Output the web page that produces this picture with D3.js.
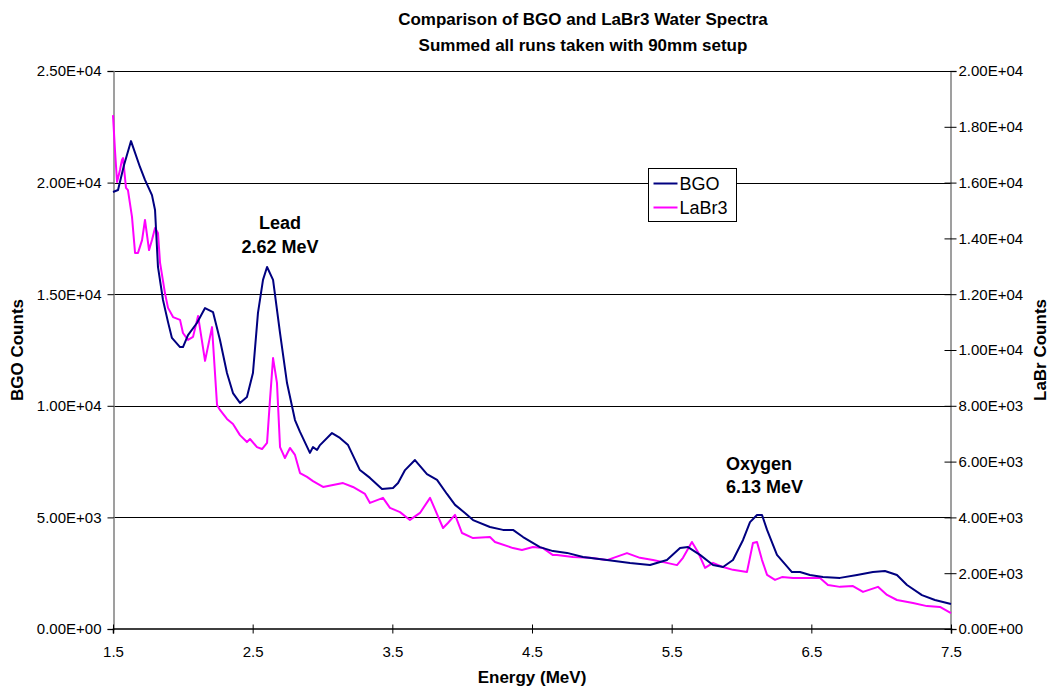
<!DOCTYPE html>
<html>
<head>
<meta charset="utf-8">
<script src="https://cdn.jsdelivr.net/npm/d3@7/dist/d3.min.js"></script>
<style>
  html, body { margin: 0; padding: 0; background: #fff; }
  svg { display: block; font-family: "Liberation Sans", Arial, sans-serif; }
</style>
</head>
<body>
<svg id="chart" width="1050" height="688"></svg>
<script>
// ---------------- DATA ----------------
const xTicks = [1.5, 2.5, 3.5, 4.5, 5.5, 6.5, 7.5];
const yLeftTicks = [0, 5000, 10000, 15000, 20000, 25000];
const yRightTicks = [0, 2000, 4000, 6000, 8000, 10000, 12000, 14000, 16000, 18000, 20000];

const bgoEnergy = [1.500,1.536,1.579,1.629,1.693,1.729,1.779,1.801,1.822,1.858,1.894,1.922,1.980,2.001,2.037,2.101,2.159,2.216,2.266,2.316,2.359,2.409,2.459,2.502,2.538,2.574,2.603,2.646,2.696,2.746,2.803,2.839,2.910,2.932,2.961,2.982,3.068,3.125,3.183,3.268,3.340,3.426,3.505,3.541,3.591,3.662,3.748,3.820,3.891,3.949,4.020,4.078,4.199,4.292,4.364,4.436,4.557,4.650,4.751,4.865,5.037,5.202,5.345,5.466,5.560,5.617,5.703,5.796,5.868,5.939,6.011,6.061,6.111,6.147,6.183,6.254,6.361,6.419,6.490,6.583,6.705,6.827,6.941,7.027,7.113,7.185,7.292,7.385,7.500];
const bgoCounts = [19580,19670,20790,21860,20700,20120,19440,18770,16220,14740,13750,13040,12630,12630,13170,13710,14380,14200,12950,11470,10570,10130,10390,11470,14160,15640,16220,15640,13260,11020,9360,8830,7890,8150,8020,8240,8780,8560,8240,7120,6770,6270,6320,6540,7120,7570,6940,6680,6050,5560,5200,4880,4570,4440,4440,4120,3670,3490,3410,3230,3090,2960,2870,3090,3630,3670,3320,2870,2780,3090,3990,4790,5110,5110,4440,3320,2550,2550,2420,2330,2290,2420,2550,2600,2420,1970,1520,1300,1120];

const labrEnergy = [1.500,1.514,1.529,1.550,1.564,1.572,1.593,1.607,1.636,1.658,1.679,1.708,1.729,1.758,1.779,1.801,1.822,1.837,1.872,1.894,1.930,1.980,2.001,2.037,2.073,2.109,2.159,2.209,2.245,2.266,2.316,2.359,2.409,2.459,2.481,2.531,2.567,2.603,2.624,2.646,2.674,2.696,2.731,2.767,2.803,2.839,2.889,2.932,3.004,3.075,3.147,3.218,3.304,3.340,3.433,3.483,3.555,3.626,3.698,3.770,3.820,3.863,3.898,3.949,3.999,4.078,4.199,4.235,4.364,4.428,4.507,4.579,4.650,4.679,4.793,4.915,5.037,5.180,5.273,5.366,5.466,5.538,5.581,5.645,5.688,5.739,5.796,5.868,5.939,6.039,6.082,6.111,6.147,6.183,6.240,6.290,6.369,6.469,6.562,6.619,6.705,6.798,6.870,6.977,7.042,7.113,7.228,7.328,7.421,7.500];
const labrCounts = [18420,17170,16020,16450,16810,16880,15810,15730,14770,13480,13480,13940,14660,13580,13940,14370,14190,13120,12040,11510,11180,11080,10610,10360,10470,11220,9610,10820,8030,7850,7530,7350,6950,6700,6810,6520,6450,6670,8210,9710,8820,6520,6130,6490,6240,5590,5450,5300,5090,5160,5230,5090,4840,4520,4700,4340,4190,3910,4160,4700,4120,3620,3800,4090,3440,3260,3300,3120,2900,2830,2940,2900,2650,2650,2580,2550,2470,2720,2550,2470,2370,2290,2550,3120,2760,2190,2370,2220,2120,2040,3080,3120,2470,1940,1760,1860,1830,1830,1830,1580,1510,1540,1330,1510,1220,1040,930,820,790,570];

const seriesNames = ["BGO", "LaBr3"];
const seriesColors = ["#000080", "#FF00FF"];

// ---------------- LAYOUT ----------------
const W = 1050, H = 688;
const margin = { top: 71, right: 99, bottom: 59, left: 113 };
const iw = W - margin.left - margin.right;
const ih = H - margin.top - margin.bottom;
const FONT = '"Liberation Sans", Arial, sans-serif';

const svg = d3.select("#chart");
const g = svg.append("g").attr("transform", `translate(${margin.left},${margin.top})`);

const x = d3.scaleLinear().domain([1.5, 7.5]).range([0, iw]);
const yL = d3.scaleLinear().domain([0, 25000]).range([ih, 0]);
const yR = d3.scaleLinear().domain([0, 20000]).range([ih, 0]);

function sci(v) {
  const [m, e] = v.toExponential(2).split("e");
  const sign = e[0] === "-" ? "-" : "+";
  const n = Math.abs(+e);
  return m + "E" + sign + String(n).padStart(2, "0");
}

// gridlines
g.append("g").selectAll("line").data(yLeftTicks.filter(d => d > 0)).join("line")
  .attr("x1", 0).attr("x2", iw)
  .attr("y1", d => Math.round(yL(d)) + 0.5).attr("y2", d => Math.round(yL(d)) + 0.5)
  .attr("stroke", "#000").attr("stroke-width", 1);

// axes
const axL = g.append("g").attr("transform", "translate(0.5,0)")
  .call(d3.axisLeft(yL).tickValues(yLeftTicks).tickFormat(sci).tickSize(6).tickPadding(6));
const axR = g.append("g").attr("transform", `translate(${iw - 0.5},0)`)
  .call(d3.axisRight(yR).tickValues(yRightTicks).tickFormat(sci).tickSize(6).tickPadding(2));
axR.selectAll(".tick line").attr("x1", -6).attr("x2", 6);
const axB = g.append("g").attr("transform", `translate(0,${ih - 0.5})`)
  .call(d3.axisBottom(x).tickValues(xTicks).tickFormat(d3.format(".1f")).tickSize(5).tickPadding(13));
axB.selectAll(".tick line").attr("y1", -4).attr("y2", 5);

[axL, axR, axB].forEach(a => {
  a.select(".domain").attr("stroke", "#808080").attr("stroke-width", 1.5);
  a.selectAll(".tick line").attr("stroke", "#000");
  a.selectAll("text").attr("font-family", FONT).attr("font-size", 15).attr("fill", "#000");
});
axB.select(".domain").attr("stroke", "#000");

// lines
const lineBGO = d3.line().x((d, i) => x(bgoEnergy[i])).y(d => yL(d));
const lineLaBr = d3.line().x((d, i) => x(labrEnergy[i])).y(d => yR(d));

g.append("path").datum(labrCounts).attr("d", lineLaBr)
  .attr("fill", "none").attr("stroke", seriesColors[1]).attr("stroke-width", 2).attr("stroke-linejoin", "round");
g.append("path").datum(bgoCounts).attr("d", lineBGO)
  .attr("fill", "none").attr("stroke", seriesColors[0]).attr("stroke-width", 2).attr("stroke-linejoin", "round");

// titles
svg.append("text").attr("x", 583).attr("y", 25).attr("text-anchor", "middle")
  .attr("font-family", FONT).attr("font-weight", "bold").attr("font-size", 17)
  .text("Comparison of BGO and LaBr3 Water Spectra");
svg.append("text").attr("x", 583).attr("y", 51).attr("text-anchor", "middle")
  .attr("font-family", FONT).attr("font-weight", "bold").attr("font-size", 17)
  .text("Summed all runs taken with 90mm setup");

svg.append("text").attr("x", margin.left + iw / 2).attr("y", 683).attr("text-anchor", "middle")
  .attr("font-family", FONT).attr("font-weight", "bold").attr("font-size", 17)
  .text("Energy (MeV)");
svg.append("text").attr("transform", `translate(23,${margin.top + ih / 2}) rotate(-90)`)
  .attr("text-anchor", "middle").attr("font-family", FONT).attr("font-weight", "bold").attr("font-size", 17)
  .text("BGO Counts");
svg.append("text").attr("transform", `translate(1046,${margin.top + ih / 2}) rotate(-90)`)
  .attr("text-anchor", "middle").attr("font-family", FONT).attr("font-weight", "bold").attr("font-size", 17)
  .text("LaBr Counts");

// annotations
const ann = svg.append("g").attr("font-family", FONT).attr("font-weight", "bold").attr("font-size", 18);
ann.append("text").attr("x", 280).attr("y", 229).attr("text-anchor", "middle").text("Lead");
ann.append("text").attr("x", 280).attr("y", 253).attr("text-anchor", "middle").text("2.62 MeV");
ann.append("text").attr("x", 726).attr("y", 470).text("Oxygen");
ann.append("text").attr("x", 726).attr("y", 493).text("6.13 MeV");

// legend
const lg = svg.append("g").attr("transform", "translate(648.5,168.5)");
lg.append("rect").attr("width", 88).attr("height", 53).attr("fill", "#fff").attr("stroke", "#000").attr("stroke-width", 1);
seriesNames.forEach((name, i) => {
  const yy = 15 + i * 24;
  lg.append("line").attr("x1", 5).attr("x2", 29).attr("y1", yy).attr("y2", yy)
    .attr("stroke", seriesColors[i]).attr("stroke-width", 2);
  lg.append("text").attr("x", 31).attr("y", yy + 6.5).attr("font-family", FONT).attr("font-size", 18).text(name);
});
</script>
</body>
</html>
